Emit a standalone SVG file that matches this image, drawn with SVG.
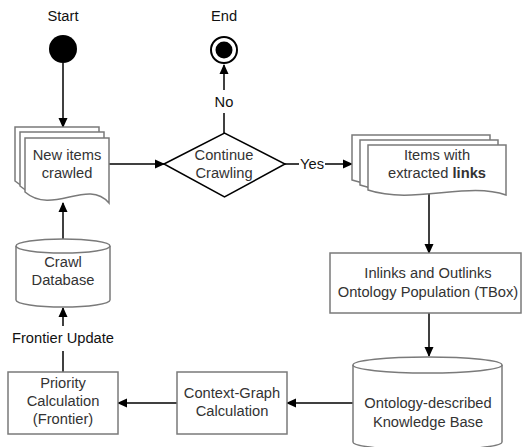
<svg xmlns="http://www.w3.org/2000/svg" width="522" height="447" viewBox="0 0 522 447">
<style>
  text { font-family: "Liberation Sans", Arial, sans-serif; font-size: 14.7px; text-anchor: middle; }
  .nt { fill: #333333; }
  .lb { fill: #111111; }
  .shape { fill: #ffffff; stroke: #7a7a7a; stroke-width: 1.5; }
  .conn { fill: none; stroke: #000000; stroke-width: 1.5; }
</style>
<defs>
  <marker id="arr" markerWidth="10" markerHeight="10" refX="9" refY="5" orient="auto" markerUnits="userSpaceOnUse">
    <path d="M0,0.5 L10,5 L0,9.5 Z" fill="#000000"/>
  </marker>
</defs>
<rect width="522" height="447" fill="#ffffff"/>

<g id="connectors">
  <line class="conn" x1="63" y1="63" x2="63" y2="127" marker-end="url(#arr)"/>
  <line class="conn" x1="109" y1="164" x2="164" y2="164" marker-end="url(#arr)"/>
  <line class="conn" x1="224" y1="133" x2="224" y2="113"/>
  <line class="conn" x1="224" y1="90" x2="224" y2="65" marker-end="url(#arr)"/>
  <line class="conn" x1="285" y1="164" x2="299" y2="164"/>
  <line class="conn" x1="325" y1="164" x2="352" y2="164" marker-end="url(#arr)"/>
  <line class="conn" x1="429" y1="191" x2="429" y2="253" marker-end="url(#arr)"/>
  <line class="conn" x1="429" y1="313" x2="429" y2="356" marker-end="url(#arr)"/>
  <line class="conn" x1="353" y1="403" x2="287" y2="403" marker-end="url(#arr)"/>
  <line class="conn" x1="177" y1="403" x2="118" y2="403" marker-end="url(#arr)"/>
  <line class="conn" x1="63" y1="372" x2="63" y2="351"/>
  <line class="conn" x1="63" y1="326" x2="63" y2="308" marker-end="url(#arr)"/>
  <line class="conn" x1="63" y1="239" x2="63" y2="203" marker-end="url(#arr)"/>
  <text class="lb" x="224" y="107">No</text>
  <text class="lb" x="312" y="169">Yes</text>
  <text class="lb" x="63" y="343">Frontier Update</text>
</g>

<g id="start">
  <text class="lb" x="63" y="21">Start</text>
  <circle cx="63" cy="49" r="14" fill="#000000"/>
</g>

<g id="end">
  <text class="lb" x="224" y="21">End</text>
  <circle cx="224" cy="50" r="13" fill="#ffffff" stroke="#000000" stroke-width="2"/>
  <circle cx="224" cy="50" r="8.5" fill="#000000"/>
</g>

<g id="new-items">
  <path class="shape" d="M15,127 H99 V192 C77,177 43,205 15,181 Z"/>
  <path class="shape" d="M20,132 H104 V197 C82,182 48,210 20,186 Z"/>
  <path class="shape" d="M25,138 H109 V203 C87,178 53,216 25,192 Z"/>
  <text class="nt" x="67" y="160">New items</text>
  <text class="nt" x="67" y="178">crawled</text>
</g>

<g id="continue">
  <polygon points="164,164 224.5,133 285,164 224.5,197" fill="#ffffff" stroke="#000000" stroke-width="1.5"/>
  <text class="nt" x="224" y="160">Continue</text>
  <text class="nt" x="224" y="178">Crawling</text>
</g>

<g id="items-links">
  <path class="shape" d="M352,135 H490 V185 C452,171 397,195 352,180 Z"/>
  <path class="shape" d="M360,140 H498 V190 C460,176 405,200 360,185 Z"/>
  <path class="shape" d="M368,145 H506 V195 C468,181 413,205 368,190 Z"/>
  <text class="nt" x="437" y="160">Items with</text>
  <text class="nt" x="437" y="178">extracted <tspan font-weight="bold">links</tspan></text>
</g>

<g id="ontology-population">
  <rect class="shape" x="330" y="253" width="191" height="60"/>
  <text class="nt" x="428" y="278">Inlinks and Outlinks</text>
  <text class="nt" x="428" y="297">Ontology Population (TBox)</text>
</g>

<g id="knowledge-base">
  <path class="shape" d="M353,365 A74.5,8 0 0 1 502,365 V442 A74.5,8 0 0 1 353,442 Z"/>
  <path d="M353,365 A74.5,8 0 0 0 502,365" fill="none" stroke="#7a7a7a" stroke-width="1.5"/>
  <text class="nt" x="428" y="408">Ontology-described</text>
  <text class="nt" x="428" y="427">Knowledge Base</text>
</g>

<g id="context-graph">
  <rect class="shape" x="177" y="372" width="110" height="62"/>
  <text class="nt" x="232" y="398">Context-Graph</text>
  <text class="nt" x="232" y="416">Calculation</text>
</g>

<g id="priority">
  <rect class="shape" x="8" y="372" width="110" height="62"/>
  <text class="nt" x="63" y="388">Priority</text>
  <text class="nt" x="63" y="406">Calculation</text>
  <text class="nt" x="63" y="424">(Frontier)</text>
</g>

<g id="crawl-db">
  <path class="shape" d="M16,246 A47,7 0 0 1 110,246 V300 A47,7 0 0 1 16,300 Z"/>
  <path d="M16,246 A47,7 0 0 0 110,246" fill="none" stroke="#7a7a7a" stroke-width="1.5"/>
  <text class="nt" x="63" y="267">Crawl</text>
  <text class="nt" x="63" y="285">Database</text>
</g>
</svg>
